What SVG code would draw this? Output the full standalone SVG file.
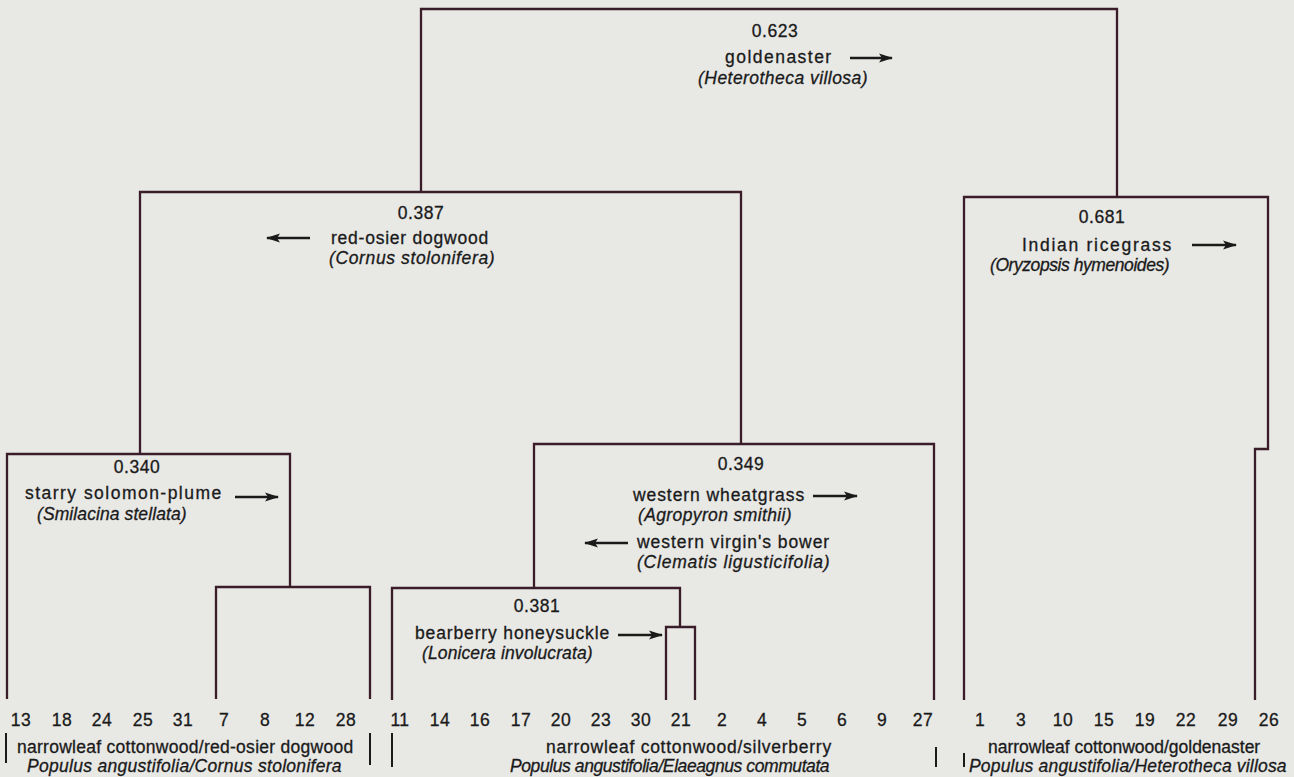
<svg xmlns="http://www.w3.org/2000/svg" width="1294" height="777" viewBox="0 0 1294 777">
<defs>
<marker id="ah" markerWidth="14" markerHeight="10" refX="13" refY="5" orient="auto" markerUnits="userSpaceOnUse"><path d="M0,0.5 L14,5 L0,9.5 L3,5 Z" fill="#1a1a1a"/></marker>
<style>
.ln{fill:none;stroke:#3b1c29;stroke-width:2.3}
.ar{stroke:#1a1a1a;stroke-width:2.5;marker-end:url(#ah)}
.bar{stroke:#1a1a1a;stroke-width:2}
text{font-family:"Liberation Sans",Arial,Helvetica,sans-serif;fill:#1a1a1a;stroke:#1a1a1a;stroke-width:0.3;font-size:17.5px;letter-spacing:0.8px}
.c{text-anchor:middle}
.i{font-style:italic;letter-spacing:0.4px}
.n{font-size:17.5px;letter-spacing:0.5px}
</style>
</defs>
<rect width="1294" height="777" fill="#e8e8e5"/>
<g id="connectors">
<path class="ln" d="M421,192 V9 H1117 V197"/>
<path class="ln" d="M140,454 V192 H741 V444"/>
<path class="ln" d="M7,699 V454 H290 V587"/>
<path class="ln" d="M216,699 V587 H370 V699"/>
<path class="ln" d="M534,588 V444 H934 V700"/>
<path class="ln" d="M392,700 V588 H680 V627"/>
<path class="ln" d="M666,700 V627 H695 V700"/>
<path class="ln" d="M964,700 V197 H1268 V449 H1255 V700"/>
</g>
<g id="n0623">
<text class="c n" x="775" y="37">0.623</text>
<text x="725" y="63" textLength="107">goldenaster</text>
<line class="ar" x1="850" y1="58" x2="892" y2="58"/>
<text class="i" x="698" y="84" textLength="170">(Heterotheca villosa)</text>
</g>
<g id="n0387">
<text class="c n" x="421" y="219">0.387</text>
<line class="ar" x1="310" y1="238" x2="267" y2="238"/>
<text x="331" y="244" textLength="158">red-osier dogwood</text>
<text class="i" x="329" y="264" textLength="166">(Cornus stolonifera)</text>
</g>
<g id="n0681">
<text class="c n" x="1102" y="223">0.681</text>
<text x="1022" y="251" textLength="150">Indian ricegrass</text>
<line class="ar" x1="1192" y1="245" x2="1236" y2="245"/>
<text class="i" x="990" y="271" textLength="180">(Oryzopsis hymenoides)</text>
</g>
<g id="n0340">
<text class="c n" x="137" y="473">0.340</text>
<text x="25" y="499" textLength="197">starry solomon-plume</text>
<line class="ar" x1="235" y1="497" x2="278" y2="497"/>
<text class="i" x="37" y="520" textLength="150">(Smilacina stellata)</text>
</g>
<g id="n0349">
<text class="c n" x="741" y="470">0.349</text>
<text x="633" y="501" textLength="172">western wheatgrass</text>
<line class="ar" x1="813" y1="496" x2="857" y2="496"/>
<text class="i" x="638" y="521" textLength="154">(Agropyron smithii)</text>
<line class="ar" x1="628" y1="543" x2="585" y2="543"/>
<text x="637" y="548" textLength="193">western virgin's bower</text>
<text class="i" x="637" y="568" textLength="193">(Clematis ligusticifolia)</text>
</g>
<g id="n0381">
<text class="c n" x="537" y="612">0.381</text>
<text x="415" y="639" textLength="195">bearberry honeysuckle</text>
<line class="ar" x1="618" y1="635" x2="662" y2="635"/>
<text class="i" x="422" y="659" textLength="171">(Lonicera involucrata)</text>
</g>
<g id="leaves">
<text class="c n" x="21" y="726">13</text>
<text class="c n" x="62" y="726">18</text>
<text class="c n" x="102" y="726">24</text>
<text class="c n" x="143" y="726">25</text>
<text class="c n" x="183" y="726">31</text>
<text class="c n" x="224" y="726">7</text>
<text class="c n" x="265" y="726">8</text>
<text class="c n" x="305" y="726">12</text>
<text class="c n" x="346" y="726">28</text>
<text class="c n" x="400" y="726">11</text>
<text class="c n" x="440" y="726">14</text>
<text class="c n" x="480" y="726">16</text>
<text class="c n" x="521" y="726">17</text>
<text class="c n" x="561" y="726">20</text>
<text class="c n" x="601" y="726">23</text>
<text class="c n" x="641" y="726">30</text>
<text class="c n" x="681" y="726">21</text>
<text class="c n" x="722" y="726">2</text>
<text class="c n" x="762" y="726">4</text>
<text class="c n" x="802" y="726">5</text>
<text class="c n" x="842" y="726">6</text>
<text class="c n" x="882" y="726">9</text>
<text class="c n" x="923" y="726">27</text>
<text class="c n" x="980" y="726">1</text>
<text class="c n" x="1021" y="726">3</text>
<text class="c n" x="1063" y="726">10</text>
<text class="c n" x="1104" y="726">15</text>
<text class="c n" x="1145" y="726">19</text>
<text class="c n" x="1186" y="726">22</text>
<text class="c n" x="1228" y="726">29</text>
<text class="c n" x="1269" y="726">26</text>
</g>
<g id="group-labels">
<line class="bar" x1="6" y1="733" x2="6" y2="763"/>
<line class="bar" x1="370" y1="733" x2="370" y2="765"/>
<line class="bar" x1="392" y1="733" x2="392" y2="767"/>
<line class="bar" x1="936" y1="747" x2="936" y2="767"/>
<line class="bar" x1="964" y1="753" x2="964" y2="767"/>
<text x="17" y="753" textLength="337">narrowleaf cottonwood/red-osier dogwood</text>
<text class="i" x="27" y="772" textLength="315">Populus angustifolia/Cornus stolonifera</text>
<text x="546" y="753" textLength="286">narrowleaf cottonwood/silverberry</text>
<text class="i" x="510" y="772" textLength="320">Populus angustifolia/Elaeagnus commutata</text>
<text x="988" y="753" textLength="273">narrowleaf cottonwood/goldenaster</text>
<text class="i" x="969" y="772" textLength="318">Populus angustifolia/Heterotheca villosa</text>
</g>
</svg>
